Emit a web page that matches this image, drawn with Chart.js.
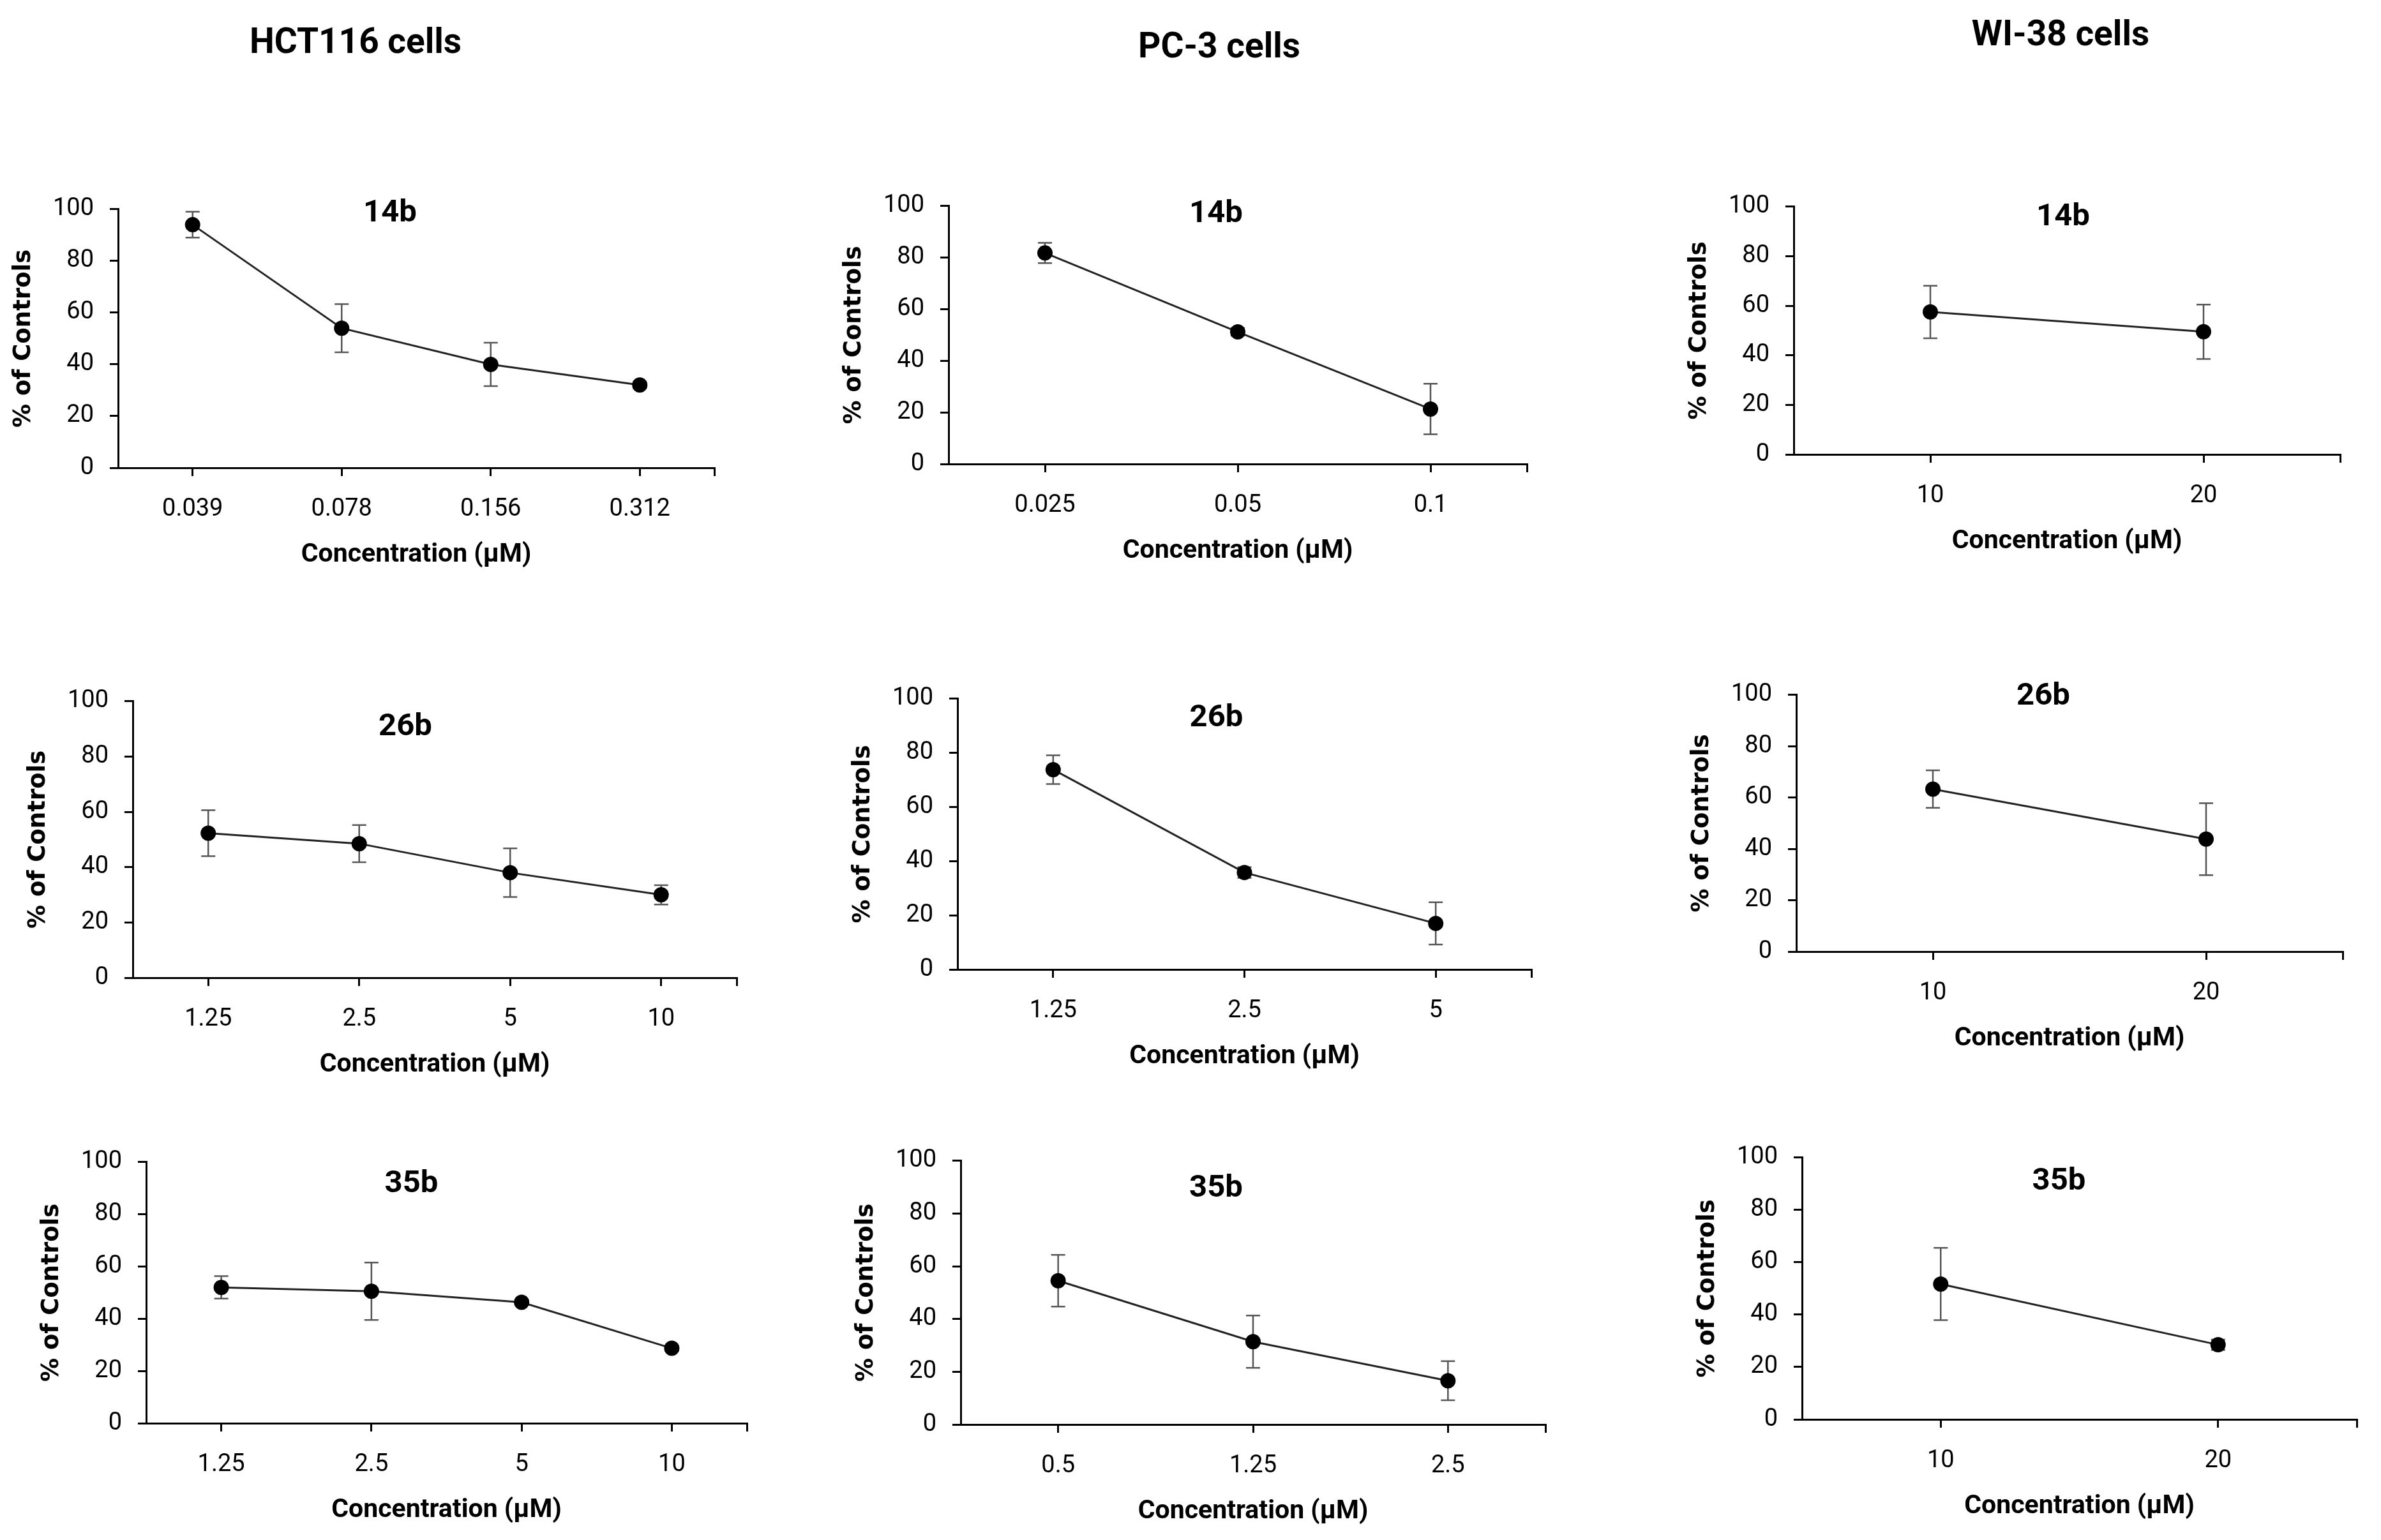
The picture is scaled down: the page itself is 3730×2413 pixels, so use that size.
<!DOCTYPE html>
<html>
<head>
<meta charset="utf-8">
<script src="https://cdn.jsdelivr.net/npm/chart.js@4.4.1/dist/chart.umd.min.js"></script>
<style>
  html, body { margin: 0; padding: 0; background: #fff; }
  #fig { position: relative; width: 3730px; height: 2413px; background: #fff; overflow: hidden; }
  #fig canvas { position: absolute; }
  .head {
    position: absolute; transform: translate(-50%, -50%); white-space: nowrap; color: #000;
    font: bold 55px Roboto, "Liberation Sans", sans-serif;
  }
</style>
</head>
<body>
<div id="fig"></div>
<script>
const cellLines = ["HCT116 cells", "PC-3 cells", "WI-38 cells"];
const compounds = ["14b", "26b", "35b"];
const yTicks = [0, 20, 40, 60, 80, 100];
const yAxisTitle = "% of Controls";
const xAxisTitle = "Concentration (µM)";

// HCT116
const hct14bDose = ["0.039", "0.078", "0.156", "0.312"];
const hct14bMean = [94, 54, 40, 32];
const hct14bErr = [5, 9.3, 8.4, 1.2];
const hct26bDose = ["1.25", "2.5", "5", "10"];
const hct26bMean = [52.3, 48.5, 38, 30];
const hct26bErr = [8.3, 6.7, 8.8, 3.5];
const hct35bDose = ["1.25", "2.5", "5", "10"];
const hct35bMean = [52, 50.5, 46.3, 28.7];
const hct35bErr = [4.3, 11, 1, 1];

// PC-3
const pc14bDose = ["0.025", "0.05", "0.1"];
const pc14bMean = [81.8, 51.2, 21.3];
const pc14bErr = [3.9, 1.5, 9.8];
const pc26bDose = ["1.25", "2.5", "5"];
const pc26bMean = [73.8, 35.8, 17];
const pc26bErr = [5.3, 2, 7.8];
const pc35bDose = ["0.5", "1.25", "2.5"];
const pc35bMean = [54.5, 31.4, 16.6];
const pc35bErr = [9.8, 9.9, 7.4];

// WI-38
const wi14bDose = ["10", "20"];
const wi14bMean = [57.5, 49.5];
const wi14bErr = [10.6, 11];
const wi26bDose = ["10", "20"];
const wi26bMean = [63.3, 43.8];
const wi26bErr = [7.3, 14];
const wi35bDose = ["10", "20"];
const wi35bMean = [51.7, 28.5];
const wi35bErr = [13.8, 2];

// rows = compound, columns = cell line
const series = [
  [{ dose: hct14bDose, mean: hct14bMean, err: hct14bErr },
   { dose: pc14bDose, mean: pc14bMean, err: pc14bErr },
   { dose: wi14bDose, mean: wi14bMean, err: wi14bErr }],
  [{ dose: hct26bDose, mean: hct26bMean, err: hct26bErr },
   { dose: pc26bDose, mean: pc26bMean, err: pc26bErr },
   { dose: wi26bDose, mean: wi26bMean, err: wi26bErr }],
  [{ dose: hct35bDose, mean: hct35bMean, err: hct35bErr },
   { dose: pc35bDose, mean: pc35bMean, err: pc35bErr },
   { dose: wi35bDose, mean: wi35bMean, err: wi35bErr }]
];

// plot area of every panel on the page (axis lines), and where its label sits
const boxes = [
  [{ left: 185, right: 1125, top: 320, bottom: 733, tdx: -41, tdy: 7 },
   { left: 1486, right: 2398, top: 315, bottom: 727, tdx: -34, tdy: 13 },
   { left: 2810, right: 3672, top: 316, bottom: 712, tdx: -6, tdy: 17 }],
  [{ left: 208, right: 1160, top: 1091, bottom: 1532, tdx: -46, tdy: 41 },
   { left: 1500, right: 2405, top: 1087, bottom: 1519, tdx: -44, tdy: 31 },
   { left: 2814, right: 3676, top: 1081, bottom: 1491, tdx: -41, tdy: 3 }],
  [{ left: 229, right: 1176, top: 1813, bottom: 2230, tdx: -55, tdy: 35 },
   { left: 1505, right: 2427, top: 1811, bottom: 2232, tdx: -58, tdy: 44 },
   { left: 2823, right: 3698, top: 1806, bottom: 2224, tdx: -32, tdy: 38 }]
];
const headPos = [[557, 64], [1910, 71], [3228, 52]];

const sans = 'Roboto, "Liberation Sans", sans-serif';
const fig = document.getElementById("fig");

const errorBars = {
  id: "errorBars",
  beforeDatasetsDraw(chart, args, opts) {
    const { ctx, scales: { x, y } } = chart;
    const pts = chart.data.datasets[0].data;
    ctx.save();
    ctx.strokeStyle = "#555";
    ctx.lineWidth = 2.5;
    pts.forEach((p, i) => {
      const e = opts.err[i];
      if (!e) return;
      const px = x.getPixelForValue(p.x);
      const hi = y.getPixelForValue(p.y + e);
      const lo = y.getPixelForValue(p.y - e);
      ctx.beginPath();
      ctx.moveTo(px, hi); ctx.lineTo(px, lo);
      ctx.moveTo(px - 11, hi); ctx.lineTo(px + 11, hi);
      ctx.moveTo(px - 11, lo); ctx.lineTo(px + 11, lo);
      ctx.stroke();
    });
    ctx.restore();
  }
};

const panelTitle = {
  id: "panelTitle",
  afterDraw(chart, args, opts) {
    const { ctx, chartArea: a } = chart;
    ctx.save();
    ctx.font = "bold 49px " + sans;
    ctx.fillStyle = "#000";
    ctx.textAlign = "center";
    ctx.textBaseline = "middle";
    ctx.fillText(opts.text, (a.left + a.right) / 2 + opts.dx, a.top + opts.dy);
    ctx.restore();
  }
};

function makePanel(s, box, title) {
  const YW = 172, XH = 165, TP = 40, RP = 24;
  const w = box.right - box.left + YW + RP;
  const h = box.bottom - box.top + TP + XH;
  const canvas = document.createElement("canvas");
  canvas.width = w;
  canvas.height = h;
  canvas.style.left = (box.left - YW) + "px";
  canvas.style.top = (box.top - TP) + "px";
  canvas.style.width = w + "px";
  canvas.style.height = h + "px";
  fig.appendChild(canvas);

  const n = s.dose.length;
  const axisLine = { display: true, color: "#000", width: 3 };
  const tickMarks = { drawOnChartArea: false, drawTicks: true, tickLength: 13, color: "#000", lineWidth: 3 };

  new Chart(canvas, {
    type: "line",
    data: {
      datasets: [{
        data: s.mean.map((m, i) => ({ x: i + 1, y: m })),
        borderColor: "#222",
        borderWidth: 3,
        pointRadius: 12,
        pointBackgroundColor: "#000",
        pointBorderColor: "#000",
        pointBorderWidth: 0,
        tension: 0
      }]
    },
    options: {
      responsive: false,
      animation: false,
      devicePixelRatio: 1,
      layout: { padding: { top: TP, right: RP, left: 0, bottom: 0 } },
      plugins: {
        legend: { display: false },
        tooltip: { enabled: false },
        errorBars: { err: s.err },
        panelTitle: { text: title, dx: box.tdx, dy: box.tdy }
      },
      scales: {
        x: {
          type: "linear",
          min: 0.5,
          max: n + 0.5,
          afterBuildTicks: sc => { sc.ticks = s.dose.map((d, i) => ({ value: i + 1 })).concat([{ value: n + 0.5 }]); },
          afterFit: sc => { sc.height = XH; },
          ticks: {
            callback: v => s.dose[v - 1] ?? "",
            font: { family: sans, size: 38 },
            color: "#000",
            padding: 30,
            maxRotation: 0,
            autoSkip: false
          },
          grid: tickMarks,
          border: axisLine,
          title: {
            display: true, text: xAxisTitle, color: "#000",
            font: { family: sans, size: 41, weight: "bold" },
            padding: { top: 0, bottom: 4 }
          }
        },
        y: {
          min: 0,
          max: 100,
          afterBuildTicks: sc => { sc.ticks = yTicks.map(v => ({ value: v })); },
          afterFit: sc => { sc.width = YW; },
          ticks: { font: { family: sans, size: 38 }, color: "#000", padding: 25 },
          grid: tickMarks,
          border: axisLine,
          title: {
            display: true, text: yAxisTitle, color: "#000",
            font: { family: '"DejaVu Sans", sans-serif', size: 37, weight: "bold" },
            padding: { top: 2, bottom: 0 }
          }
        }
      }
    },
    plugins: [errorBars, panelTitle]
  });
}

cellLines.forEach((name, c) => {
  const d = document.createElement("div");
  d.className = "head";
  d.textContent = name;
  d.style.left = headPos[c][0] + "px";
  d.style.top = headPos[c][1] + "px";
  fig.appendChild(d);
});

compounds.forEach((comp, r) => {
  cellLines.forEach((name, c) => makePanel(series[r][c], boxes[r][c], comp));
});
</script>
</body>
</html>
